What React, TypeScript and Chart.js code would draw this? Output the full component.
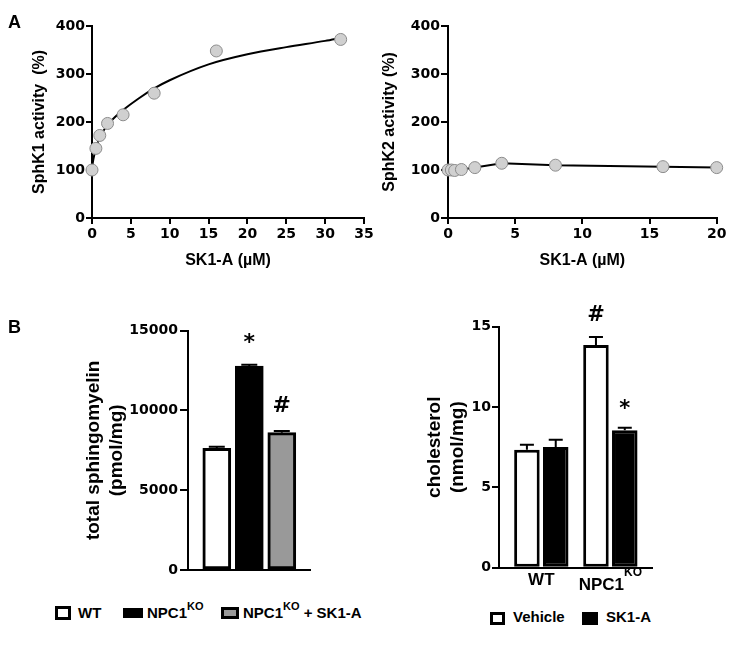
import React, { useEffect, useRef } from 'react';
import { Chart, registerables } from 'chart.js';

Chart.register(...registerables);

// ---------- Panel A (left): SphK1 activity vs SK1-A ----------
const sphk1Dose = [0, 0.5, 1, 2, 4, 8, 16, 32];
const sphk1Activity = [100, 145, 172, 197, 215, 260, 348, 372];
// fitted curve
const sphk1FitDose = [0, 0.1, 0.25, 0.5, 1, 2, 3, 4, 6, 8, 10, 15, 20, 25, 30, 32];
const sphk1FitActivity = [100, 115, 128, 145, 168, 194, 211, 225, 249, 270, 287, 320, 341, 356, 369, 375];

// ---------- Panel A (right): SphK2 activity vs SK1-A ----------
const sphk2Dose = [0, 0.25, 0.5, 1, 2, 4, 8, 16, 20];
const sphk2Activity = [100, 100, 99, 101, 105, 114, 110, 107, 105];

// ---------- Panel B (left): total sphingomyelin ----------
const sphMean = [7630, 12790, 8610];
const sphSem = [90, 80, 110];
const sphMarks = ['', '*', '#'];

// ---------- Panel B (right): cholesterol ----------
const cholGroups = ['WT', 'NPC1'];
const cholGroupSup = ['', 'KO'];
const cholVehicle = [7.34, 13.86];
const cholVehicleSem = [0.31, 0.5];
const cholVehicleMarks = ['', '#'];
const cholSK1A = [7.51, 8.55];
const cholSK1ASem = [0.46, 0.16];
const cholSK1AMarks = ['', '*'];

const ARIAL = "'Liberation Sans', Arial, Helvetica, sans-serif";
const DEJAVU = "'DejaVu Sans', Verdana, sans-serif";

const tickFont = { family: DEJAVU, size: 14, weight: 'bold' as const };
const titleFont = (size: number) => ({ family: ARIAL, size, weight: 'bold' as const, lineHeight: 1.2 });

const axisLines = (tickLen: number) => ({
  grid: { display: true, drawOnChartArea: false, drawTicks: true, tickLength: tickLen, color: '#000', lineWidth: 2 },
  border: { display: true, color: '#000', width: 2 },
});

const errorMarkPlugin = (capWidth: number, markSize: number, markGap: number) => ({
  id: 'errorMarks',
  afterDatasetsDraw(chart: any) {
    const ctx = chart.ctx;
    const yScale = chart.scales.y;
    chart.data.datasets.forEach((ds: any, di: number) => {
      const meta = chart.getDatasetMeta(di);
      meta.data.forEach((bar: any, i: number) => {
        const v = ds.data[i].y;
        const e = ds.errors ? ds.errors[i] : 0;
        const py = yScale.getPixelForValue(v);
        const pe = yScale.getPixelForValue(v + e);
        ctx.save();
        ctx.strokeStyle = '#000';
        ctx.lineWidth = 2;
        ctx.beginPath();
        ctx.moveTo(bar.x, py);
        ctx.lineTo(bar.x, pe);
        ctx.moveTo(bar.x - capWidth / 2, pe);
        ctx.lineTo(bar.x + capWidth / 2, pe);
        ctx.stroke();
        const mark = ds.marks ? ds.marks[i] : '';
        if (mark) {
          ctx.font = `bold ${markSize}px ${DEJAVU}`;
          ctx.fillStyle = '#000';
          ctx.textAlign = 'center';
          ctx.textBaseline = 'alphabetic';
          const m = ctx.measureText(mark);
          const cy = pe - markGap;
          ctx.fillText(mark, bar.x, cy + (m.actualBoundingBoxAscent - m.actualBoundingBoxDescent) / 2);
        }
        ctx.restore();
      });
    });
  },
});

const groupLabelPlugin = (labels: string[], sups: string[]) => ({
  id: 'groupLabels',
  afterDraw(chart: any) {
    const { ctx, chartArea } = chart;
    const xs = chart.scales.x;
    labels.forEach((lab, i) => {
      const cx = xs.getPixelForValue(i + 1);
      const sup = sups[i];
      ctx.save();
      ctx.fillStyle = '#000';
      ctx.textBaseline = 'alphabetic';
      ctx.textAlign = 'left';
      ctx.font = `bold 17px ${ARIAL}`;
      const w1 = ctx.measureText(lab).width;
      ctx.font = `bold 12px ${ARIAL}`;
      const w2 = sup ? ctx.measureText(sup).width : 0;
      const start = cx - (w1 + w2) / 2;
      const base = chartArea.bottom + (sup ? 22 : 17);
      ctx.font = `bold 17px ${ARIAL}`;
      ctx.fillText(lab, start, base);
      if (sup) {
        ctx.font = `bold 12px ${ARIAL}`;
        ctx.fillText(sup, start + w1, base - 14);
      }
      ctx.restore();
    });
  },
});

const baseOptions = {
  animation: false as const,
  responsive: false,
  devicePixelRatio: 1,
  events: [] as any[],
  plugins: { legend: { display: false }, tooltip: { enabled: false } },
};

const configA1 = () => ({
  type: 'scatter' as const,
  data: {
    datasets: [
      {
        data: sphk1Dose.map((x, i) => ({ x, y: sphk1Activity[i] })),
        pointRadius: 6,
        pointBackgroundColor: '#d0d0d0',
        pointBorderColor: '#8c8c8c',
        pointBorderWidth: 1,
        showLine: false,
        clip: false,
      },
      {
        data: sphk1FitDose.map((x, i) => ({ x, y: sphk1FitActivity[i] })),
        showLine: true,
        pointRadius: 0,
        borderColor: '#000',
        borderWidth: 2,
        cubicInterpolationMode: 'monotone' as const,
        clip: false,
      },
    ],
  },
  options: {
    ...baseOptions,
    layout: { padding: { left: 0, top: 26, right: 36, bottom: 0 } },
    scales: {
      x: {
        type: 'linear' as const, min: 0, max: 35,
        afterFit: (s: any) => { s.height = 72; },
        ticks: { stepSize: 5, color: '#000', font: tickFont, padding: 2, maxRotation: 0, autoSkip: false },
        ...axisLines(6),
        title: { display: true, text: 'SK1-A (µM)', color: '#000', font: titleFont(16), padding: { top: 0, bottom: 19.4 } },
      },
      y: {
        type: 'linear' as const, min: 0, max: 400,
        afterFit: (s: any) => { s.width = 92; },
        ticks: { stepSize: 100, color: '#000', font: tickFont, padding: 1, callback: (v: any) => String(v) },
        ...axisLines(6),
        title: { display: true, text: 'SphK1 activity  (%)', color: '#000', font: titleFont(16), padding: { top: 30.4, bottom: 0 } },
      },
    },
  },
});

const configA2 = () => ({
  type: 'scatter' as const,
  data: {
    datasets: [
      {
        data: sphk2Dose.map((x, i) => ({ x, y: sphk2Activity[i] })),
        pointRadius: 6,
        pointBackgroundColor: '#d0d0d0',
        pointBorderColor: '#8c8c8c',
        pointBorderWidth: 1,
        showLine: true,
        borderColor: '#000',
        borderWidth: 2,
        clip: false,
      },
    ],
  },
  options: {
    ...baseOptions,
    layout: { padding: { left: 0, top: 26, right: 21.3, bottom: 0 } },
    scales: {
      x: {
        type: 'linear' as const, min: 0, max: 20,
        afterFit: (s: any) => { s.height = 72; },
        ticks: { stepSize: 5, color: '#000', font: tickFont, padding: 2, maxRotation: 0, autoSkip: false },
        ...axisLines(6),
        title: { display: true, text: 'SK1-A (µM)', color: '#000', font: titleFont(16), padding: { top: 0, bottom: 19.4 } },
      },
      y: {
        type: 'linear' as const, min: 0, max: 400,
        afterFit: (s: any) => { s.width = 79; },
        ticks: { stepSize: 100, color: '#000', font: tickFont, padding: 1, callback: (v: any) => String(v) },
        ...axisLines(7),
        title: { display: true, text: 'SphK2 activity (%)', color: '#000', font: titleFont(16), padding: { top: 11.4, bottom: 0 } },
      },
    },
  },
});

const sphColors = ['#ffffff', '#000000', '#999999'];

const configB1 = () => ({
  type: 'bar' as const,
  data: {
    datasets: [
      {
        data: sphMean.map((v, i) => ({ x: i + 1, y: v })),
        backgroundColor: sphColors,
        borderColor: '#000',
        borderWidth: 3,
        borderSkipped: false,
        barThickness: 28,
        errors: sphSem,
        marks: sphMarks,
      } as any,
    ],
  },
  options: {
    ...baseOptions,
    layout: { padding: { left: 0, top: 30.7, right: 59, bottom: 0 } },
    scales: {
      x: {
        type: 'linear' as const, min: 0.114, max: 3.868, offset: false,
        afterFit: (s: any) => { s.height = 30; },
        ticks: { display: false },
        grid: { display: false, offset: false },
        border: { display: true, color: '#000', width: 2 },
      },
      y: {
        type: 'linear' as const, min: 0, max: 15000,
        afterFit: (s: any) => { s.width = 188; },
        ticks: { stepSize: 5000, color: '#000', font: tickFont, padding: 2, callback: (v: any) => String(v) },
        ...axisLines(8),
        title: { display: true, text: ['total sphingomyelin', '(pmol/mg)'], color: '#000', font: titleFont(19), padding: { top: 82.6, bottom: 0 } },
      },
    },
  },
  plugins: [errorMarkPlugin(16, 22, 27)],
});

const configB2 = () => ({
  type: 'bar' as const,
  data: {
    datasets: [
      {
        label: 'Vehicle',
        data: cholVehicle.map((v, i) => ({ x: i + 1, y: v })),
        backgroundColor: '#ffffff',
        borderColor: '#000',
        borderWidth: 3,
        borderSkipped: false,
        categoryPercentage: 0.835,
        barPercentage: 0.885,
        errors: cholVehicleSem,
        marks: cholVehicleMarks,
      } as any,
      {
        label: 'SK1-A',
        data: cholSK1A.map((v, i) => ({ x: i + 1, y: v })),
        backgroundColor: '#000000',
        borderColor: '#000',
        borderWidth: 3,
        borderSkipped: false,
        categoryPercentage: 0.835,
        barPercentage: 0.885,
        errors: cholSK1ASem,
        marks: cholSK1AMarks,
      } as any,
    ],
  },
  options: {
    ...baseOptions,
    layout: { padding: { left: 0, top: 26.7, right: 86, bottom: 0 } },
    scales: {
      x: {
        type: 'linear' as const, min: 0.387, max: 2.603, offset: false,
        afterBuildTicks: (s: any) => { s.ticks = cholGroups.map((_, i) => ({ value: i + 1 })); },
        afterFit: (s: any) => { s.height = 32.3; },
        ticks: { display: false },
        grid: { display: false, offset: false },
        border: { display: true, color: '#000', width: 2 },
      },
      y: {
        type: 'linear' as const, min: 0, max: 15,
        afterFit: (s: any) => { s.width = 130; },
        ticks: { stepSize: 5, color: '#000', font: tickFont, padding: 1, callback: (v: any) => String(v) },
        ...axisLines(7),
        title: { display: true, text: ['cholesterol', '(nmol/mg)'], color: '#000', font: titleFont(19), padding: { top: 54.6, bottom: 0 } },
      },
    },
  },
  plugins: [errorMarkPlugin(14, 21, 24), groupLabelPlugin(cholGroups, cholGroupSup)],
});

function ChartCanvas({ left, top, width, height, config }: { left: number; top: number; width: number; height: number; config: () => any }) {
  const ref = useRef<HTMLCanvasElement>(null);
  useEffect(() => {
    const chart = new Chart(ref.current as HTMLCanvasElement, config());
    return () => chart.destroy();
  }, []);
  return (
    <canvas
      ref={ref}
      width={width}
      height={height}
      style={{ position: 'absolute', left, top, width, height }}
    />
  );
}

const textBase: React.CSSProperties = {
  position: 'absolute',
  fontFamily: ARIAL,
  fontWeight: 'bold',
  color: '#000',
  whiteSpace: 'nowrap',
};

function LegendText({ left, top, parts }: { left: number; top: number; parts: string[] }) {
  return (
    <div style={{ ...textBase, left, top, fontSize: 15, lineHeight: '15px' }}>
      {parts[0]}
      {parts[1] ? <span style={{ fontSize: 11, position: 'relative', top: -8 }}>{parts[1]}</span> : null}
      {parts[2] || null}
    </div>
  );
}

function Box({ left, top, w, h, fill, border }: { left: number; top: number; w: number; h: number; fill: string; border: number }) {
  return (
    <div
      style={{
        position: 'absolute', left, top, width: w, height: h, boxSizing: 'border-box',
        background: fill, border: `${border}px solid #000`,
      }}
    />
  );
}

export default function App() {
  return (
    <div style={{ position: 'absolute', left: 0, top: 0, width: 738, height: 648, background: '#fff', overflow: 'hidden' }}>
      <ChartCanvas left={0} top={0} width={400} height={290} config={configA1} />
      <ChartCanvas left={369} top={0} width={369} height={290} config={configA2} />
      <ChartCanvas left={0} top={300} width={369} height={300} config={configB1} />
      <ChartCanvas left={369} top={300} width={369} height={300} config={configB2} />

      <div style={{ ...textBase, left: 8, top: 12.7, fontSize: 18, lineHeight: '18px' }}>A</div>
      <div style={{ ...textBase, left: 8, top: 317.7, fontSize: 18, lineHeight: '18px' }}>B</div>

      {/* legend B left */}
      <Box left={55} top={606} w={16} h={14} fill="#fff" border={3} />
      <LegendText left={78} top={605} parts={['WT']} />
      <Box left={123} top={608} w={20} h={10} fill="#000" border={0} />
      <LegendText left={147} top={605} parts={['NPC1', 'KO']} />
      <Box left={221} top={607} w={18} h={12} fill="#999" border={3} />
      <LegendText left={243} top={605} parts={['NPC1', 'KO', ' + SK1-A']} />

      {/* legend B right */}
      <Box left={490} top={612} w={15} h={13} fill="#fff" border={3} />
      <LegendText left={513} top={609} parts={['Vehicle']} />
      <Box left={582} top={612} w={16} h={13} fill="#000" border={0} />
      <LegendText left={606} top={609} parts={['SK1-A']} />
    </div>
  );
}
